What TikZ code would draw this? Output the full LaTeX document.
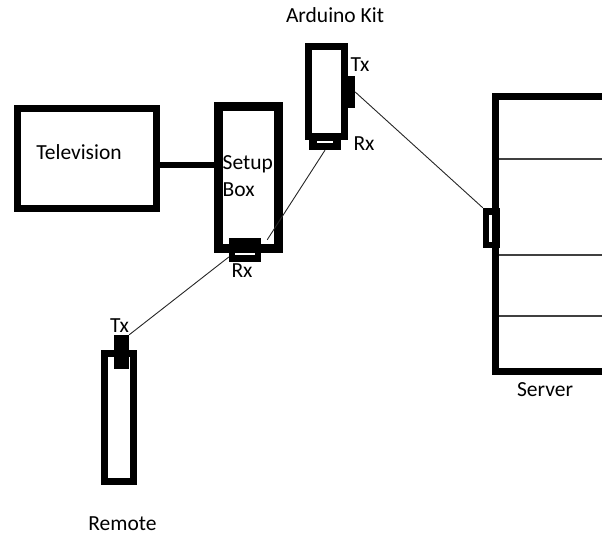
\documentclass[tikz,border=0pt]{standalone}
\usepackage{fontspec}
\setmainfont{Carlito}
\usetikzlibrary{calc}

\begin{document}
\begin{tikzpicture}[x=1pt, y=-1pt,
  unit/.style={draw, line width=7pt, inner sep=0pt},
  port/.style={fill=black, inner sep=0pt},
  slot/.style={white, line width=2pt},
  wire/.style={black!85, line width=0.9pt},
  lbl/.style={anchor=base, inner sep=0pt, font=\fontsize{21.5}{27}\selectfont}]

  \useasboundingbox (0,0) rectangle (602,534);

  % --- the boxes ---------------------------------------------------------------
  \node[unit, minimum width=139pt, minimum height=100pt] (tv) at (87,158.5) {};
  \node[unit, line width=9pt, minimum width=60pt, minimum height=142pt] (setup) at (248.5,177.5) {};
  \node[unit, minimum width=36pt, minimum height=90pt] (ard) at (326.5,91.5) {};
  \node[unit, minimum width=29pt, minimum height=128pt] (remote) at (119,417.5) {};

  % server rack, open on the right
  \draw[line width=7pt] (602,96.5) -- (495.5,96.5) -- (495.5,371.5) -- (602,371.5);
  \foreach \y in {159,255,316}
    \draw[black!75, line width=1.3pt] (499,\y) -- (602,\y);

  % --- Tx / Rx ports -----------------------------------------------------------
  \node[port, minimum width=10pt, minimum height=32pt] (ardtx) at (350,92) {};
  \node[port, minimum width=32pt, minimum height=14pt] (ardrx) at (325,143) {};
  \node[port, minimum width=32pt, minimum height=24pt] (setuprx) at (245,250) {};
  \node[port, minimum width=15pt, minimum height=34pt] (remotetx) at (121.5,352) {};
  \node[port, minimum width=17pt, minimum height=40pt] (srvport) at (491.5,228) {};

  \draw[slot] ([xshift=-8pt,yshift=1pt]ardrx.center) -- ([xshift=8pt,yshift=1pt]ardrx.center);
  \draw[slot] ([xshift=-10pt,yshift=-4pt]setuprx.center) -- ([xshift=10pt,yshift=-4pt]setuprx.center);
  \draw[slot, line width=2.5pt] ([xshift=-1pt,yshift=13pt]srvport.center) -- ([xshift=-1pt,yshift=-14pt]srvport.center);

  % --- links -------------------------------------------------------------------
  \draw[line width=6pt] ([yshift=-6.5pt]tv.east) -- ([yshift=-6.5pt]tv.east -| setup.west);
  \draw[wire] (ardtx.east) -- (srvport.north west);
  \draw[wire] (ardrx.south) -- ([xshift=6pt,yshift=-2pt]setuprx.north east);
  \draw[wire] ([yshift=-7pt]setuprx.west) -- (remotetx.north east);

  % --- labels ------------------------------------------------------------------
  \node[lbl] (tvlbl) at (79,160) {Television};
  \node[lbl, anchor=west, align=left] (setuplbl) at (222.5,176) {Setup\\Box};
  \node[lbl] (ardlbl) at (335,23) {Arduino Kit};
  \node[lbl] (ardtxlbl) at (360,72) {Tx};
  \node[lbl] (ardrxlbl) at (364,151) {Rx};
  \node[lbl] (setuprxlbl) at (242,278) {Rx};
  \node[lbl] (remotetxlbl) at (119.5,333) {Tx};
  \node[lbl] (srvlbl) at (545,396) {Server};
  \node[lbl] (remotelbl) at (122.5,530) {Remote};

\end{tikzpicture}
\end{document}
